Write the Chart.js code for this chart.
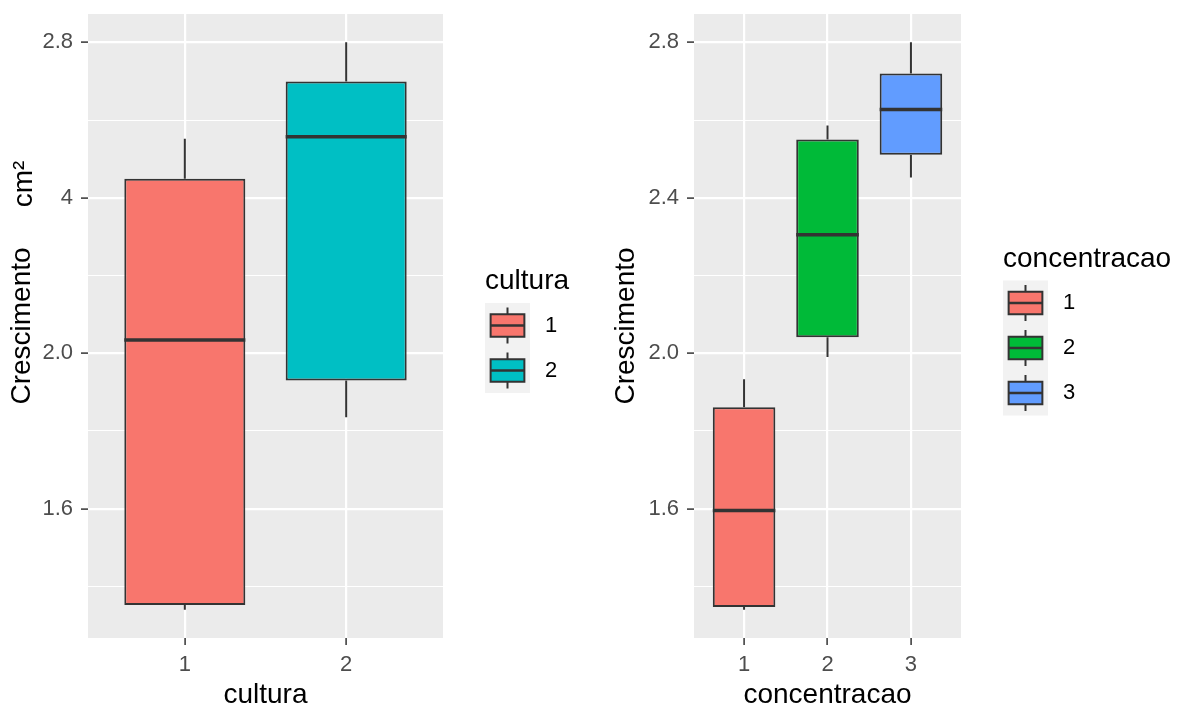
<!DOCTYPE html>
<html>
<head>
<meta charset="utf-8">
<script src="https://cdn.jsdelivr.net/npm/chart.js@4.4.1/dist/chart.umd.min.js"></script>
<style>
  html, body { margin: 0; padding: 0; background: #fff; }
  #wrap { position: relative; width: 1180px; height: 709px; }
  .pane { position: absolute; top: 0; height: 709px; }
  #left { left: 0; width: 600px; }
  #right { left: 600px; width: 580px; }
</style>
</head>
<body>
<div id="wrap">
  <div class="pane" id="left"><canvas id="chartCultura"></canvas></div>
  <div class="pane" id="right"><canvas id="chartConc"></canvas></div>
</div>
<script>
// valori (boxplot: minimo, Q1, mediana, Q3, massimo)
const culturaCats = ["1", "2"];
const culturaLow = [1.34, 1.835];
const culturaQ1 = [1.352, 1.93];
const culturaMed = [2.034, 2.557];
const culturaQ3 = [2.449, 2.699];
const culturaHigh = [2.552, 2.8];
const culturaColors = ["#F8766D", "#00BFC4"];

const concCats = ["1", "2", "3"];
const concLow = [1.34, 1.99, 2.452];
const concQ1 = [1.347, 2.041, 2.511];
const concMed = [1.595, 2.305, 2.627];
const concQ3 = [1.861, 2.55, 2.72];
const concHigh = [1.933, 2.586, 2.8];
const concColors = ["#F8766D", "#00BA38", "#619CFF"];

// tick dell'asse y
const yTicks = [1.6, 2.0, 2.4, 2.8];
const culturaTickLabels = ["1.6", "2.0", "4", "2.8"];
const concTickLabels = ["1.6", "2.0", "2.4", "2.8"];

const FONT = '"Liberation Sans", Arial, sans-serif';
Chart.defaults.font.family = FONT;

// linee secondarie a metà fra i tick principali
const minorTicks = [yTicks[0] - (yTicks[1] - yTicks[0]) / 2]
  .concat(yTicks.slice(1).map((v, i) => (v + yTicks[i]) / 2));
const allYTicks = yTicks.concat(minorTicks).sort((a, b) => a - b);
const isMajor = (v) => yTicks.some((t) => Math.abs(t - v) < 1e-6);

// plugin per sfondo, baffi, mediane e legenda stile ggplot
const boxplotPlugin = {
  id: "boxplotGG",
  beforeDraw(chart) {
    const { ctx, chartArea: a } = chart;
    ctx.save();
    ctx.fillStyle = "#EBEBEB";
    ctx.fillRect(a.left, a.top, a.right - a.left, a.bottom - a.top);
    ctx.restore();
  },
  beforeDatasetsDraw(chart, args, opts) {
    const { ctx, scales } = chart;
    const b = opts.box;
    ctx.save();
    ctx.strokeStyle = "#333333";
    ctx.lineWidth = 2;
    b.low.forEach((low, i) => {
      const x = scales.x.getPixelForValue(i + 1);
      ctx.beginPath();
      ctx.moveTo(x, scales.y.getPixelForValue(low));
      ctx.lineTo(x, scales.y.getPixelForValue(b.q1[i]));
      ctx.moveTo(x, scales.y.getPixelForValue(b.q3[i]));
      ctx.lineTo(x, scales.y.getPixelForValue(b.high[i]));
      ctx.stroke();
    });
    ctx.restore();
  },
  afterDatasetsDraw(chart, args, opts) {
    const { ctx, scales } = chart;
    const meta = chart.getDatasetMeta(0);
    ctx.save();
    ctx.strokeStyle = "#333333";
    ctx.lineWidth = 3.5;
    opts.box.med.forEach((m, i) => {
      const el = meta.data[i];
      const y = scales.y.getPixelForValue(m);
      ctx.beginPath();
      ctx.moveTo(el.x - el.width / 2, y);
      ctx.lineTo(el.x + el.width / 2, y);
      ctx.stroke();
    });
    ctx.restore();
  },
  afterDraw(chart, args, opts) {
    const { ctx, chartArea: a } = chart;
    const key = 45;
    const n = opts.cats.length;
    const x0 = a.right + 42;
    const keysTop = (a.top + a.bottom) / 2 - (n * key) / 2 + 22;
    ctx.save();
    ctx.fillStyle = "#000";
    ctx.font = "28px " + FONT;
    ctx.textBaseline = "alphabetic";
    ctx.textAlign = "left";
    ctx.fillText(opts.title, x0, keysTop - 14);
    ctx.fillStyle = "#F2F2F2";
    ctx.fillRect(x0, keysTop, key, n * key);
    opts.cats.forEach((c, i) => {
      const ky = keysTop + i * key;
      const cx = x0 + key / 2;
      ctx.strokeStyle = "#333333";
      ctx.lineWidth = 2;
      ctx.beginPath();
      ctx.moveTo(cx, ky + 0.1 * key);
      ctx.lineTo(cx, ky + 0.9 * key);
      ctx.stroke();
      ctx.fillStyle = opts.colors[i];
      ctx.fillRect(x0 + 0.125 * key, ky + 0.25 * key, 0.75 * key, 0.5 * key);
      ctx.strokeRect(x0 + 0.125 * key, ky + 0.25 * key, 0.75 * key, 0.5 * key);
      ctx.lineWidth = 2.5;
      ctx.beginPath();
      ctx.moveTo(x0 + 0.125 * key, ky + key / 2);
      ctx.lineTo(x0 + 0.875 * key, ky + key / 2);
      ctx.stroke();
      ctx.fillStyle = "#000";
      ctx.font = "22px " + FONT;
      ctx.textBaseline = "middle";
      ctx.fillText(c, x0 + key + 15, ky + key / 2);
    });
    if (opts.extraYText) {
      ctx.translate(opts.extraYText.x, opts.extraYText.y);
      ctx.rotate(-Math.PI / 2);
      ctx.font = "28px " + FONT;
      ctx.textAlign = "center";
      ctx.textBaseline = "middle";
      ctx.fillStyle = "#000";
      ctx.fillText(opts.extraYText.text, 0, 0);
    }
    ctx.restore();
  },
};

function makeChart(id, cfg) {
  const n = cfg.cats.length;
  const lows = cfg.box.low, highs = cfg.box.high;
  const dMin = Math.min(...lows), dMax = Math.max(...highs);
  const pad = (dMax - dMin) * 0.05;

  return new Chart(document.getElementById(id), {
    type: "bar",
    data: {
      datasets: [
        {
          data: cfg.cats.map((c, i) => ({ x: i + 1, y: [cfg.box.q1[i], cfg.box.q3[i]] })),
          backgroundColor: cfg.colors,
          borderColor: "#333333",
          borderWidth: 2,
          borderSkipped: false,
          categoryPercentage: 1,
          barPercentage: 0.75,
        },
      ],
    },
    options: {
      responsive: true,
      maintainAspectRatio: false,
      animation: false,
      layout: { padding: { top: 14, right: cfg.padRight, left: cfg.padLeft, bottom: 0 } },
      scales: {
        x: {
          type: "linear",
          offset: false,
          min: 0.4,
          max: n + 0.6,
          afterBuildTicks: (s) => { s.ticks = cfg.cats.map((c, i) => ({ value: i + 1 })); },
          afterFit: (s) => { s.height = 71; s.paddingLeft = 0; s.paddingRight = 0; },
          ticks: {
            autoSkip: false,
            padding: 7,
            color: "#4D4D4D",
            font: { size: 22 },
            callback: (v) => cfg.cats[Math.round(v) - 1],
          },
          grid: { offset: false, color: "#FFFFFF", lineWidth: 2.2, tickColor: "#333333", tickLength: 7, tickWidth: 1.5 },
          border: { display: false },
          title: {
            display: true,
            text: cfg.xTitle,
            color: "#000",
            font: { size: 28, lineHeight: 1 },
            padding: { top: 0, bottom: 0 },
          },
        },
        y: {
          type: "linear",
          min: dMin - pad,
          max: dMax + pad,
          afterBuildTicks: (s) => { s.ticks = allYTicks.map((v) => ({ value: v })); },
          afterFit: (s) => { s.width = cfg.yWidth; s.paddingTop = 0; s.paddingBottom = 0; },
          ticks: {
            autoSkip: false,
            padding: 8,
            color: "#4D4D4D",
            font: { size: 22 },
            callback: (v) => {
              const k = yTicks.findIndex((t) => Math.abs(t - v) < 1e-6);
              return k >= 0 ? cfg.tickLabels[k] : "";
            },
          },
          grid: {
            color: "#FFFFFF",
            lineWidth: (c) => (isMajor(c.tick.value) ? 2.2 : 1.1),
            tickColor: (c) => (isMajor(c.tick.value) ? "#333333" : "rgba(0,0,0,0)"),
            tickLength: 7,
            tickWidth: 1.5,
          },
          border: { display: false },
          title: {
            display: true,
            text: "Crescimento",
            color: "#000",
            font: { size: 28, lineHeight: 1 },
            padding: { top: 8, bottom: 0 },
          },
        },
      },
      plugins: {
        legend: { display: false },
        tooltip: { enabled: false },
        boxplotGG: {
          box: cfg.box,
          cats: cfg.cats,
          colors: cfg.colors,
          title: cfg.xTitle,
          extraYText: cfg.extraYText,
        },
      },
    },
    plugins: [boxplotPlugin],
  });
}

makeChart("chartCultura", {
  cats: culturaCats,
  colors: culturaColors,
  box: { low: culturaLow, q1: culturaQ1, med: culturaMed, q3: culturaQ3, high: culturaHigh },
  tickLabels: culturaTickLabels,
  xTitle: "cultura",
  padLeft: 0,
  padRight: 157,
  yWidth: 88,
  extraYText: { text: "cm²", x: 24, y: 184 },
});

makeChart("chartConc", {
  cats: concCats,
  colors: concColors,
  box: { low: concLow, q1: concQ1, med: concMed, q3: concQ3, high: concHigh },
  tickLabels: concTickLabels,
  xTitle: "concentracao",
  padLeft: 4,
  padRight: 219,
  yWidth: 90,
  extraYText: null,
});
</script>
</body>
</html>
